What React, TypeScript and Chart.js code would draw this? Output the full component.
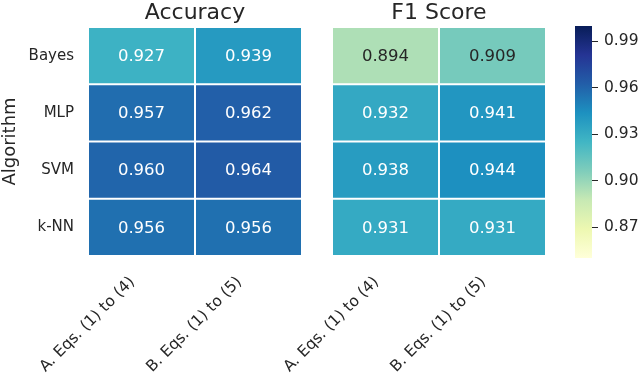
import React, { useEffect, useRef } from "react";
import { Chart, registerables } from "chart.js";

Chart.register(...registerables);

// ---------- data ----------
const algorithms = ["Bayes", "MLP", "SVM", "k-NN"];
const columns = ["A. Eqs. (1) to (4)", "B. Eqs. (1) to (5)"];
const accuracyA = [0.927, 0.957, 0.96, 0.956];
const accuracyB = [0.939, 0.962, 0.964, 0.956];
const f1A = [0.894, 0.932, 0.938, 0.931];
const f1B = [0.909, 0.941, 0.944, 0.931];
const colorbarTicks = [0.87, 0.9, 0.93, 0.96, 0.99];
const vMin = 0.85;
const vMax = 1.0;
const ylgnbu = [
  "#ffffd9",
  "#edf8b1",
  "#c7e9b4",
  "#7fcdbb",
  "#41b6c4",
  "#1d91c0",
  "#225ea8",
  "#253494",
  "#081d58",
];

// ---------- helpers ----------
const FONT = "'DejaVu Sans', 'Liberation Sans', sans-serif";
const TEXT = "#262626";

function hexToRgb(h: string): number[] {
  const n = parseInt(h.slice(1), 16);
  return [(n >> 16) & 255, (n >> 8) & 255, n & 255];
}

function cmapRgb(v: number): number[] {
  let t = (v - vMin) / (vMax - vMin);
  t = Math.max(0, Math.min(1, t));
  const seg = t * (ylgnbu.length - 1);
  const i = Math.min(Math.floor(seg), ylgnbu.length - 2);
  const f = seg - i;
  const a = hexToRgb(ylgnbu[i]);
  const b = hexToRgb(ylgnbu[i + 1]);
  return a.map((c, k) => Math.round(c + (b[k] - c) * f));
}

function cmap(v: number): string {
  const [r, g, b] = cmapRgb(v);
  return `rgb(${r},${g},${b})`;
}

function textColorFor(v: number): string {
  const lin = cmapRgb(v).map((c) => {
    const s = c / 255;
    return s <= 0.03928 ? s / 12.92 : Math.pow((s + 0.055) / 1.055, 2.4);
  });
  const lum = 0.2126 * lin[0] + 0.7152 * lin[1] + 0.0722 * lin[2];
  return lum > 0.408 ? TEXT : "#ffffff";
}

const cellLabels = {
  id: "cellLabels",
  afterDatasetsDraw(chart: any) {
    const ctx = chart.ctx;
    ctx.save();
    ctx.font = `16.5px ${FONT}`;
    ctx.textAlign = "center";
    ctx.textBaseline = "middle";
    chart.data.datasets.forEach((ds: any, d: number) => {
      const meta = chart.getDatasetMeta(d);
      meta.data.forEach((el: any, i: number) => {
        const p = el.getCenterPoint();
        const v = ds.values[i];
        ctx.fillStyle = textColorFor(v);
        ctx.fillText(v.toFixed(3), p.x, p.y + 1);
      });
    });
    ctx.restore();
  },
};

const panelTitle = {
  id: "panelTitle",
  afterDraw(chart: any, _args: any, opts: any) {
    const ctx = chart.ctx;
    const a = chart.chartArea;
    ctx.save();
    ctx.font = `22px ${FONT}`;
    ctx.fillStyle = TEXT;
    ctx.textAlign = "center";
    ctx.textBaseline = "alphabetic";
    ctx.fillText(opts.text, (a.left + a.right) / 2, 19);
    ctx.restore();
  },
};

function makeHeatmap(
  canvas: HTMLCanvasElement,
  title: string,
  colValues: number[][],
  showY: boolean,
  padding: any
) {
  return new Chart(canvas, {
    type: "bar",
    data: {
      labels: algorithms,
      datasets: colValues.map((vals, c) => ({
        label: columns[c],
        data: vals.map(() => 1),
        values: vals,
        backgroundColor: vals.map((v) => cmap(v)),
        borderColor: "#ffffff",
        borderWidth: 1,
        borderSkipped: false,
        inflateAmount: 0,
        barPercentage: 1,
        categoryPercentage: 1,
      })) as any,
    },
    options: {
      indexAxis: "y",
      responsive: false,
      animation: false,
      events: [],
      layout: { padding },
      plugins: {
        legend: { display: false },
        tooltip: { enabled: false },
        panelTitle: { text: title },
      } as any,
      scales: {
        x: {
          type: "linear",
          stacked: true,
          min: 0,
          max: columns.length,
          position: "bottom",
          grid: { display: false, drawTicks: false },
          border: { display: false },
          afterBuildTicks: (s: any) => {
            s.ticks = columns.map((_, i) => ({ value: i + 0.5 }));
          },
          afterFit: (s: any) => {
            s.height = 117;
          },
          ticks: {
            autoSkip: false,
            minRotation: 45,
            maxRotation: 45,
            padding: 17,
            labelOffset: -9,
            color: TEXT,
            font: { family: FONT, size: 15.5 },
            callback: (_v: any, i: number) => columns[i],
          },
        },
        y: {
          type: "category",
          stacked: true,
          display: showY,
          grid: { display: false, drawTicks: false },
          border: { display: false },
          afterFit: (s: any) => {
            s.width = showY ? 88 : 0;
          },
          ticks: {
            padding: 14,
            color: TEXT,
            font: { family: FONT, size: 15 },
          },
          title: {
            display: true,
            text: "Algorithm",
            color: TEXT,
            font: { family: FONT, size: 18 },
            padding: { top: 0, bottom: 0 },
          },
        },
      } as any,
    },
    plugins: [cellLabels, panelTitle],
  });
}

function makeColorbar(canvas: HTMLCanvasElement) {
  return new Chart(canvas, {
    type: "bar",
    data: {
      labels: [""],
      datasets: [
        {
          data: [[vMin, vMax]] as any,
          backgroundColor: (c: any) => {
            const chart = c.chart;
            if (!chart.chartArea) return ylgnbu[4];
            const ys = chart.scales.y;
            const g = chart.ctx.createLinearGradient(
              0,
              ys.getPixelForValue(vMin),
              0,
              ys.getPixelForValue(vMax)
            );
            ylgnbu.forEach((col, i) => g.addColorStop(i / (ylgnbu.length - 1), col));
            return g;
          },
          borderWidth: 0,
          inflateAmount: 0,
          barPercentage: 1,
          categoryPercentage: 1,
        } as any,
      ],
    },
    options: {
      responsive: false,
      animation: false,
      events: [],
      layout: { padding: { top: 26, bottom: 373 - 258, left: 15, right: 0 } },
      plugins: { legend: { display: false }, tooltip: { enabled: false } },
      scales: {
        x: { display: false } as any,
        y: {
          position: "right",
          min: vMin,
          max: vMax,
          grid: {
            drawOnChartArea: false,
            drawTicks: true,
            tickLength: 6,
            tickColor: TEXT,
            tickWidth: 1,
          },
          border: { display: false },
          afterBuildTicks: (s: any) => {
            s.ticks = colorbarTicks.map((v) => ({ value: v }));
          },
          afterFit: (s: any) => {
            s.width = 48;
          },
          ticks: {
            padding: 6,
            color: TEXT,
            font: { family: FONT, size: 15.5 },
            callback: (v: any) => Number(v).toFixed(2),
          },
        } as any,
      },
    },
  });
}

export default function App() {
  const accRef = useRef<HTMLCanvasElement>(null);
  const f1Ref = useRef<HTMLCanvasElement>(null);
  const cbRef = useRef<HTMLCanvasElement>(null);

  useEffect(() => {
    const charts = [
      makeHeatmap(accRef.current!, "Accuracy", [accuracyA, accuracyB], true, {
        top: 27,
        right: 18,
        bottom: 0,
        left: 0,
      }),
      makeHeatmap(f1Ref.current!, "F1 Score", [f1A, f1B], false, {
        top: 27,
        right: 14,
        bottom: 0,
        left: 92,
      }),
      makeColorbar(cbRef.current!),
    ];
    return () => charts.forEach((c) => c.destroy());
  }, []);

  const abs = (left: number, width: number): React.CSSProperties => ({
    position: "absolute",
    left,
    top: 0,
    width,
    height: 373,
  });

  return (
    <div style={{ position: "absolute", left: 0, top: 0, width: 640, height: 373, background: "#fff" }}>
      <canvas ref={accRef} width={320} height={373} style={abs(0, 320)} />
      <canvas ref={f1Ref} width={320} height={373} style={abs(240, 320)} />
      <canvas ref={cbRef} width={80} height={373} style={abs(560, 80)} />
    </div>
  );
}
